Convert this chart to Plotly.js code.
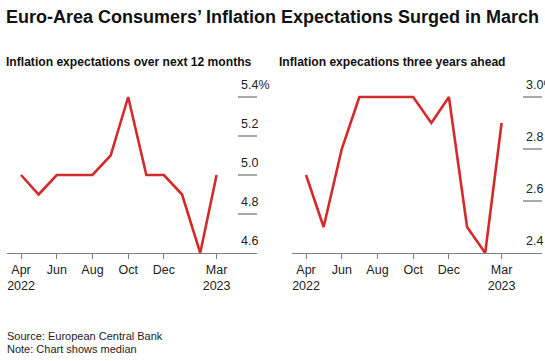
<!DOCTYPE html>
<html>
<head>
<meta charset="utf-8">
<script src="https://cdn.plot.ly/plotly-3.0.1.min.js"></script>
<style>
html,body{margin:0;padding:0;background:#fff;}
#chart{width:545px;height:361px;}
</style>
</head>
<body>
<div id="chart"></div>
<script>
// Data
const months = ["2022-04-01","2022-05-01","2022-06-01","2022-07-01","2022-08-01","2022-09-01",
                "2022-10-01","2022-11-01","2022-12-01","2023-01-01","2023-02-01","2023-03-01"];
const next12Months = [5.0, 4.9, 5.0, 5.0, 5.0, 5.1, 5.4, 5.0, 5.0, 4.9, 4.6, 5.0];
const threeYearsAhead = [2.7, 2.5, 2.8, 3.0, 3.0, 3.0, 3.0, 2.9, 3.0, 2.5, 2.4, 2.9];
const xTickVals = ["2022-04-01","2022-06-01","2022-08-01","2022-10-01","2022-12-01","2023-03-01"];
const xTickText = ["Apr<br>2022","Jun","Aug","Oct","Dec","Mar<br>2023"];
const leftYTicks = [4.6, 4.8, 5.0, 5.2, 5.4];
const leftYLabels = ["4.6","4.8","5.0","5.2","5.4%"];
const rightYTicks = [2.4, 2.6, 2.8, 3.0];
const rightYLabels = ["2.4","2.6","2.8","3.0%"];

const W = 545, H = 361;
const FONT = "Liberation Sans, Arial, sans-serif";
const RED = "#d42a2a";
const GRID = "#8c8c8c";

const yDom = [(H-253)/H, (H-77.5)/H];
const xDomL = [7/W, 257/W];
const xDomR = [292/W, 542/W];
const xRange = ["2022-03-08","2023-05-09"];

const xaxisBase = {
  type: "date",
  range: xRange,
  tickmode: "array",
  tickvals: xTickVals,
  ticktext: xTickText,
  showgrid: false,
  zeroline: false,
  showline: true,
  linecolor: "#7f7f7f",
  linewidth: 1,
  ticks: "outside",
  ticklen: 5,
  tickcolor: "#7f7f7f",
  tickfont: {family: FONT, size: 12.5, color: "#222"},
  fixedrange: true
};

const traces = [
  {x: months, y: next12Months, type: "scatter", mode: "lines",
   line: {color: RED, width: 2.6}, xaxis: "x", yaxis: "y", hoverinfo: "skip"},
  {x: months, y: threeYearsAhead, type: "scatter", mode: "lines",
   line: {color: RED, width: 2.6}, xaxis: "x2", yaxis: "y2", hoverinfo: "skip"}
];

const shapes = [];
const annotations = [];
function addYTicks(vals, labels, xref, yref, x0, x1) {
  vals.forEach((v, i) => {
    if (i > 0) {
      shapes.push({type: "line", xref: xref, yref: yref, x0: x0, x1: x1, y0: v, y1: v,
                   line: {color: GRID, width: 1.6}});
    }
    annotations.push({xref: xref, yref: yref, x: x0 + 0.002, y: v, yshift: 3,
                      text: labels[i], showarrow: false, xanchor: "left", yanchor: "bottom",
                      font: {family: FONT, size: 12.5, color: "#222"}});
  });
}
// gridline segments in paper units
addYTicks(leftYTicks, leftYLabels, "paper", "y", 238/W, 257/W);
addYTicks(rightYTicks, rightYLabels, "paper", "y2", 523/W, 542/W);

annotations.push(
  {xref: "paper", yref: "paper", x: 4/W, y: 1 - 17/H, text: "<b>Euro-Area Consumers’ Inflation Expectations Surged in March</b>",
   showarrow: false, xanchor: "left", yanchor: "middle", font: {family: FONT, size: 18, color: "#111"}},
  {xref: "paper", yref: "paper", x: 4/W, y: 1 - 62/H, text: "<b>Inflation expectations over next 12 months</b>",
   showarrow: false, xanchor: "left", yanchor: "middle", font: {family: FONT, size: 12.1, color: "#111"}},
  {xref: "paper", yref: "paper", x: 277/W, y: 1 - 62/H, text: "<b>Inflation expecations three years ahead</b>",
   showarrow: false, xanchor: "left", yanchor: "middle", font: {family: FONT, size: 12.1, color: "#111"}},
  {xref: "paper", yref: "paper", x: 5/W, y: 1 - 336/H, text: "Source: European Central Bank",
   showarrow: false, xanchor: "left", yanchor: "middle", font: {family: FONT, size: 11, color: "#222"}},
  {xref: "paper", yref: "paper", x: 5/W, y: 1 - 349/H, text: "Note: Chart shows median",
   showarrow: false, xanchor: "left", yanchor: "middle", font: {family: FONT, size: 11, color: "#222"}}
);

const layout = {
  width: W, height: H,
  margin: {l: 0, r: 0, t: 0, b: 0, pad: 0},
  paper_bgcolor: "#fff", plot_bgcolor: "rgba(0,0,0,0)",
  showlegend: false,
  xaxis: Object.assign({}, xaxisBase, {domain: xDomL, anchor: "y"}),
  xaxis2: Object.assign({}, xaxisBase, {domain: xDomR, anchor: "y2"}),
  yaxis: {domain: yDom, range: [4.6, 5.5], showgrid: false, zeroline: false, showline: false,
          showticklabels: false, ticks: "", anchor: "x", fixedrange: true},
  yaxis2: {domain: yDom, range: [2.4, 2.4 + 175.5/260], showgrid: false, zeroline: false, showline: false,
           showticklabels: false, ticks: "", anchor: "x2", fixedrange: true},
  shapes: shapes,
  annotations: annotations
};

Plotly.newPlot("chart", traces, layout, {displayModeBar: false, staticPlot: true});
</script>
</body>
</html>
